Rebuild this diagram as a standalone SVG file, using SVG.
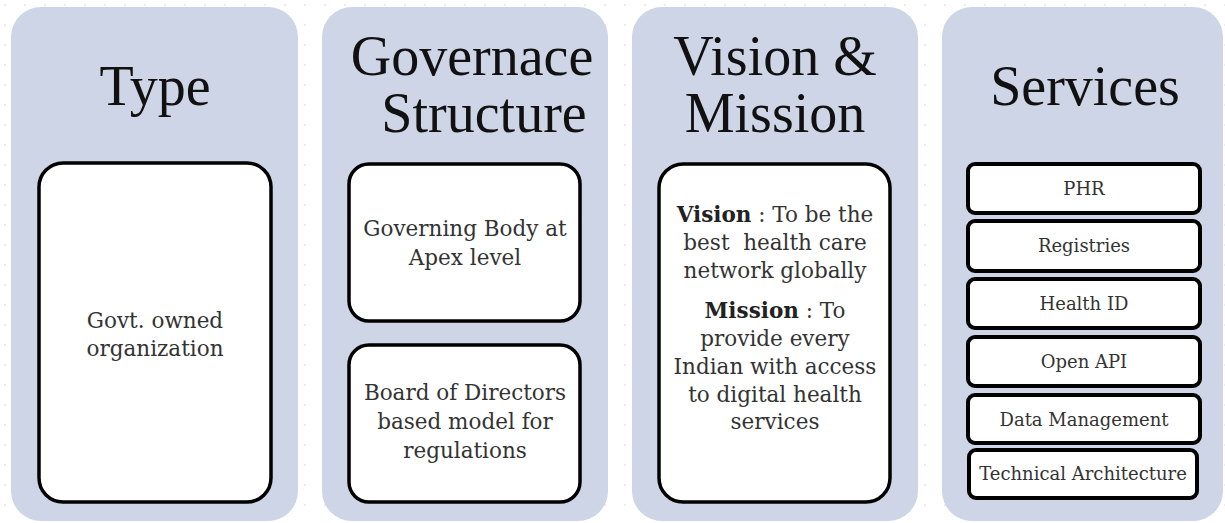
<svg xmlns="http://www.w3.org/2000/svg" width="1225" height="523" viewBox="0 0 1225 523">
<defs>
<pattern id="dots" width="20" height="20" patternUnits="userSpaceOnUse">
<circle cx="5" cy="5" r="1" fill="#e2e6ee"/>
</pattern>
<style>
.panel{fill:#cdd5e6}
.box{fill:#fff;stroke:#000;stroke-width:3.5}
.sbox{fill:#fff;stroke:#000;stroke-width:4}
.title{font-family:"Liberation Serif",serif;font-size:56px;fill:#111;text-anchor:middle}
.body{font-family:"DejaVu Serif","Liberation Serif",serif;font-size:21.5px;fill:#333;text-anchor:middle}
.svc{font-family:"DejaVu Serif","Liberation Serif",serif;font-size:18px;fill:#333;text-anchor:middle}
.b{font-weight:bold;fill:#222}
</style>
</defs>
<rect width="1225" height="523" fill="#fff"/>
<rect width="1225" height="523" fill="url(#dots)"/>

<g id="type">
<rect class="panel" x="11" y="7" width="287" height="514" rx="30"/>
<text class="title" x="155" y="105">Type</text>
<rect class="box" x="39" y="163" width="232" height="339" rx="24"/>
<text class="body" x="155" y="328">Govt. owned</text>
<text class="body" x="155" y="356">organization</text>
</g>

<g id="governance">
<rect class="panel" x="322" y="7" width="286" height="514" rx="30"/>
<text class="title" x="472" y="75">Governace</text>
<text class="title" x="484" y="132">Structure</text>
<g id="gov-apex">
<rect class="box" x="349" y="164" width="231" height="157" rx="20"/>
<text class="body" x="465" y="236">Governing Body at</text>
<text class="body" x="465" y="265">Apex level</text>
</g>
<g id="gov-board">
<rect class="box" x="349" y="345" width="231" height="157" rx="20"/>
<text class="body" x="465" y="400">Board of Directors</text>
<text class="body" x="465" y="429">based model for</text>
<text class="body" x="465" y="458">regulations</text>
</g>
</g>

<g id="vision">
<rect class="panel" x="632" y="7" width="286" height="514" rx="30"/>
<text class="title" x="775" y="75">Vision &amp;</text>
<text class="title" x="775" y="132">Mission</text>
<rect class="box" x="659" y="164" width="231" height="338" rx="24"/>
<text class="body" x="775" y="222"><tspan class="b">Vision</tspan>  : To be the</text>
<text class="body" x="775" y="250" xml:space="preserve">best  health care</text>
<text class="body" x="775" y="278">network globally</text>
<text class="body" x="775" y="318"><tspan class="b">Mission</tspan>  : To</text>
<text class="body" x="775" y="346">provide every</text>
<text class="body" x="775" y="374">Indian with access</text>
<text class="body" x="775" y="402">to digital health</text>
<text class="body" x="775" y="429">services</text>
</g>

<g id="services">
<rect class="panel" x="942" y="7" width="281" height="514" rx="30"/>
<text class="title" x="1085" y="105">Services</text>
<g id="svc-phr"><rect class="sbox" x="968" y="164" width="232" height="49" rx="7"/><text class="svc" x="1084" y="195">PHR</text></g>
<g id="svc-reg"><rect class="sbox" x="968" y="221" width="232" height="50" rx="7"/><text class="svc" x="1084" y="252">Registries</text></g>
<g id="svc-hid"><rect class="sbox" x="968" y="279" width="232" height="49" rx="7"/><text class="svc" x="1084" y="310">Health ID</text></g>
<g id="svc-api"><rect class="sbox" x="968" y="337" width="232" height="49" rx="7"/><text class="svc" x="1084" y="368">Open API</text></g>
<g id="svc-data"><rect class="sbox" x="968" y="395" width="232" height="48" rx="7"/><text class="svc" x="1084" y="426">Data Management</text></g>
<g id="svc-tech"><rect class="sbox" x="969" y="450" width="228" height="48" rx="7"/><text class="svc" x="1083" y="480">Technical Architecture</text></g>
</g>
<g id="connectors"/>
</svg>
